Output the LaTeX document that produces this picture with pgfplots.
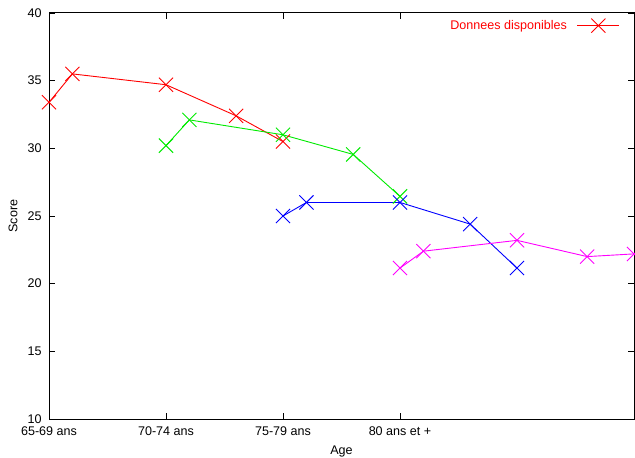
\documentclass[border=0pt]{standalone}
\usepackage{fontspec}
\setmainfont{Liberation Sans}
\usepackage{pgfplots}
\pgfplotsset{compat=1.18}
\definecolor{gpred}{RGB}{255,0,0}
\definecolor{gpgreen}{RGB}{0,235,0}
\definecolor{gpblue}{RGB}{0,0,255}
\definecolor{gpmag}{RGB}{255,0,255}

\begin{document}
\begin{tikzpicture}
\useasboundingbox (0,0) rectangle (635bp,458bp);
\begin{axis}[
    scale only axis,
    width=585bp, height=406bp,
    at={(49bp,39bp)}, anchor=south west,
    xmin=0, xmax=5, ymin=10, ymax=40,
    xtick={0,1,2,3},
    xticklabels={65-69 ans,70-74 ans,75-79 ans,80 ans et +},
    ytick={10,15,...,40},
    tick align=inside,
    major tick length=6bp,
    axis line style={line width=1bp, black},
    every tick/.style={black, line width=0.8bp},
    font=\fontsize{12.6}{14}\selectfont,
    /pgf/number format/assume math mode=true,
    xticklabel style={inner sep=0pt, yshift=-7.5bp},
    yticklabel style={inner sep=0pt, xshift=-7.3bp},
    xlabel={Age}, ylabel={Score},
    xlabel style={at={(axis description cs:0.5,-0.0805)}, anchor=center},
    ylabel style={at={(axis description cs:-0.0615,0.5)}, anchor=center},
    clip=false,
    legend plot pos=right,
    legend style={draw=none, fill=none, at={(0.976,0.969)}, anchor=east,
        inner sep=0pt, text=gpred, font=\fontsize{12.6}{14}\selectfont},
    legend image code/.code={
        \path (0bp,0bp);
        \draw[#1, mark repeat=2, mark phase=2] plot coordinates {(8bp,0cm) (29bp,0cm) (50bp,0cm)};
    },
    every axis plot/.append style={line width=0.9bp, mark=x, mark size=10bp,
        mark options={line width=0.9bp}},
]
\addplot[gpred] coordinates {
    (0,33.4) (0.2,35.5) (1,34.7) (1.6,32.4) (2,30.5)
};
\addlegendentry{Donnees disponibles}
\addplot[gpgreen, forget plot] coordinates {
    (1,30.2) (1.2,32.1) (2,31.0) (2.6,29.55) (3,26.45)
};
\addplot[gpblue, forget plot] coordinates {
    (2,25.0) (2.2,26.0) (3,26.0) (3.6,24.4) (4,21.15)
};
\addplot[gpmag, forget plot] coordinates {
    (3,21.15) (3.2,22.4) (4,23.2) (4.6,22.0) (5,22.2)
};
\end{axis}
\end{tikzpicture}
\end{document}
